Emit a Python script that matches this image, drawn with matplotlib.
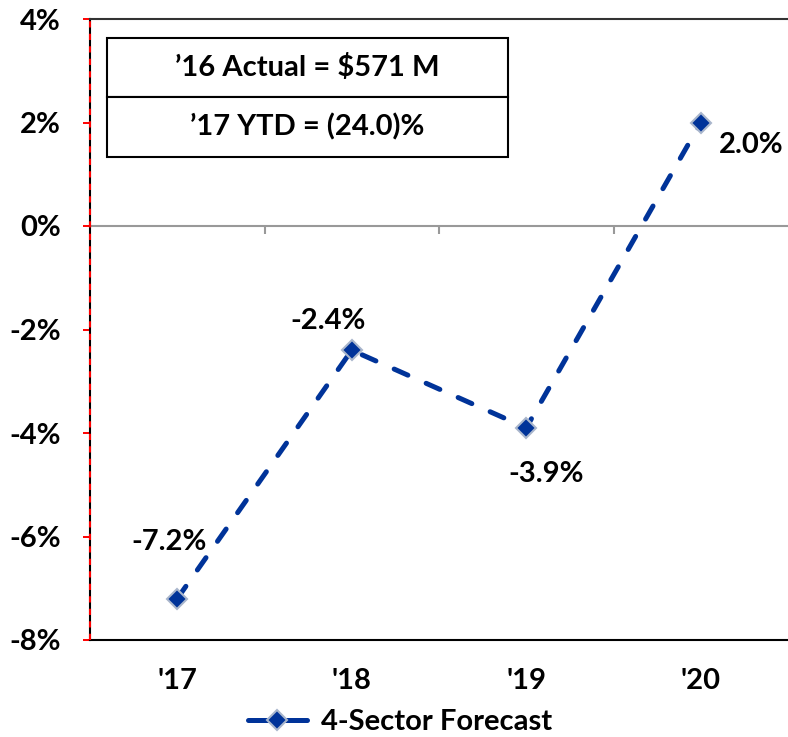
import matplotlib.pyplot as plt
from matplotlib.lines import Line2D
from matplotlib.patches import Rectangle
from matplotlib.ticker import FuncFormatter

years = ["'17", "'18", "'19", "'20"]
forecast = [-7.2, -2.4, -3.9, 2.0]
label_offsets = [(-6, 41), (-17, 21), (14, -33), (36, -16)]
box_lines = ["\u201916 Actual = $571 M", "\u201917 YTD = (24.0)%"]
series_name = "4-Sector Forecast"

plt.rcParams["font.family"] = ["Lato", "DejaVu Sans"]
plt.rcParams["font.weight"] = "bold"

line_color = "#003399"
edge_color = "#a9b6cc"
fs = 21

fig = plt.figure(figsize=(7.88, 7.37), dpi=100)
ax = fig.add_axes([90 / 788, 97 / 737, 698 / 788, 621 / 737])

x = list(range(len(years)))
ax.plot(x, forecast, color=line_color, lw=3.6, dashes=(3, 4),
        dash_capstyle="round", marker="D", markersize=10,
        markerfacecolor=line_color, markeredgecolor=edge_color,
        markeredgewidth=1.5, zorder=3)

for xi, v, (dx, dy) in zip(x, forecast, label_offsets):
    ax.annotate(f"{v:.1f}%", (xi, v), xytext=(dx, dy),
                textcoords="offset points", ha="center", va="center",
                fontsize=fs, fontweight="bold")

ax.set_xlim(-0.5, len(years) - 0.5)
ax.set_ylim(-8, 4)
ax.set_yticks(range(-8, 5, 2))
ax.yaxis.set_major_formatter(FuncFormatter(lambda v, _: f"{v:.0f}%"))
ax.tick_params(axis="y", colors="red", length=5, width=1.4, pad=16,
               labelsize=fs, labelcolor="black")
ax.set_xticks(x)
ax.set_xticklabels(years)
ax.tick_params(axis="x", length=0, pad=20, labelsize=fs)
for lab in ax.get_xticklabels() + ax.get_yticklabels():
    lab.set_fontweight("bold")

# zero line with small category separators
ax.axhline(0, color="#999999", lw=1.5, zorder=1)
ax.vlines([i + 0.5 for i in x[:-1]], -0.16, 0, color="#999999", lw=1.5,
          zorder=1)

ax.spines["right"].set_visible(False)
ax.spines["top"].set_color("#333333")
ax.spines["top"].set_linewidth(1.5)
ax.spines["bottom"].set_color("black")
ax.spines["bottom"].set_linewidth(1.5)
ax.spines["left"].set_color("black")
ax.spines["left"].set_linewidth(1.5)
ax.axvline(-0.5, color="red", lw=1.5, dashes=(3, 3), clip_on=False, zorder=4)

# summary boxes in the top left corner
bx0, bx1 = 0.0244, 0.599
rows = [(0.8744, 0.9694), (0.7778, 0.8744)]
for text, (y0, y1) in zip(box_lines, rows):
    ax.add_patch(Rectangle((bx0, y0), bx1 - bx0, y1 - y0,
                           transform=ax.transAxes, fill=True,
                           facecolor="white", edgecolor="black", lw=1.5,
                           zorder=5))
    ax.text((bx0 + bx1) / 2, (y0 + y1) / 2, text, transform=ax.transAxes,
            ha="center", va="center", fontsize=fs, fontweight="bold",
            zorder=6)

handle = Line2D([], [], color=line_color, lw=3.6, solid_capstyle="round",
                marker="D", markersize=10, markerfacecolor=line_color,
                markeredgecolor=edge_color, markeredgewidth=1.5)
fig.legend([handle], [series_name], loc="center",
           bbox_to_anchor=(0.508, 15 / 737), frameon=False,
           handlelength=2.0, handletextpad=0.5,
           prop={"weight": "bold", "size": fs})

fig.savefig("out.png", dpi=100)
